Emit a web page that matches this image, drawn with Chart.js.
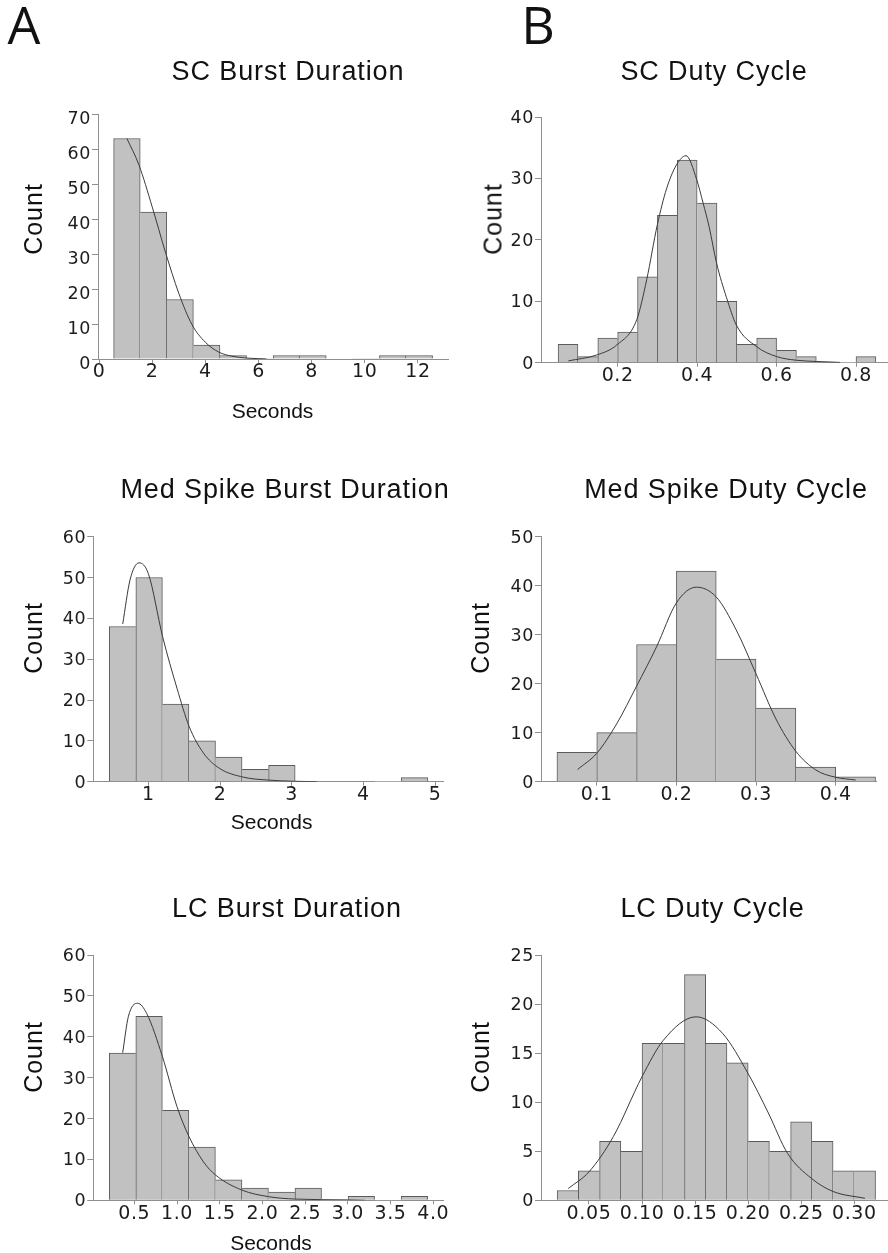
<!DOCTYPE html>
<html lang="en">
<head>
<meta charset="UTF-8">
<title>Burst duration and duty cycle</title>
<script src="https://cdn.jsdelivr.net/npm/chart.js"></script>
<style>
  body { margin: 0; background: #fff; }
  #page { position: relative; width: 888px; height: 1253px; overflow: hidden;
          font-family: "Liberation Sans", Arial, sans-serif; color: #111; }
  #page canvas { position: absolute; }
  .txt { position: absolute; line-height: 1; white-space: nowrap; transform: translate(-50%, -50%); }
  .letter { font-family: "Open Sans", sans-serif; font-size: 52px; }
  .title { font-size: 27px; letter-spacing: 0.9px; }
  .ylab { font-size: 25px; letter-spacing: 1px; transform: translate(-50%, -50%) rotate(-90deg); }
  .xlab { font-size: 21px; }
</style>
</head>
<body>
<div id="page"></div>
<script>
// ---- data ----
// SC burst duration (s)
const scBurstCounts = [63, 42, 17, 4, 1, 0, 1, 1, 0, 0, 1, 1];
const scBurstBinStart = 0.55, scBurstBinWidth = 1.0;
const scBurstFit = [[1.05, 63], [1.5, 55.5], [2.0, 43.5], [2.5, 30.5], [3.0, 18.8], [3.5, 9.8],
                    [4.0, 4.8], [4.5, 2.0], [5.0, 0.8], [5.5, 0.3], [6.0, 0.1], [6.3, 0]];
const scBurstXTicks = ['0', '2', '4', '6', '8', '10', '12'];
const scBurstYTicks = [0, 10, 20, 30, 40, 50, 60, 70];

// SC duty cycle
const scDutyCounts = [3, 1, 4, 5, 14, 24, 33, 26, 10, 3, 4, 2, 1, 0, 0, 1];
const scDutyBinStart = 0.05, scDutyBinWidth = 0.05;
const scDutyFit = [[0.076, 0.3], [0.147, 1.25], [0.198, 2.9], [0.248, 7.0], [0.273, 13.5], [0.3, 22.5],
                   [0.323, 28.3], [0.348, 32.2], [0.372, 33.7], [0.399, 29.8], [0.415, 26], [0.43, 22.2],
                   [0.449, 16.2], [0.474, 10.6], [0.499, 6.1], [0.55, 2.6], [0.6, 1.0], [0.65, 0.4],
                   [0.7, 0.2], [0.76, 0.05]];
const scDutyXTicks = ['0.2', '0.4', '0.6', '0.8'];
const scDutyYTicks = [0, 10, 20, 30, 40];

// Med spike burst duration (s)
const medBurstCounts = [38, 50, 19, 10, 6, 3, 4, 0, 0, 0, 0, 1];
const medBurstBinStart = 0.456, medBurstBinWidth = 0.3703;
const medBurstFit = [[0.643, 38.6], [0.745, 49.4], [0.87, 53.6], [1.0, 51.0], [1.2, 35.5], [1.4, 22.9],
                     [1.57, 13.5], [1.77, 7.0], [1.99, 3.3], [2.33, 1.1], [2.67, 0.4], [3.05, 0.1], [3.35, 0]];
const medBurstXTicks = ['1', '2', '3', '4', '5'];
const medBurstYTicks = [0, 10, 20, 30, 40, 50, 60];

// Med spike duty cycle
const medDutyCounts = [6, 10, 28, 43, 25, 15, 3, 1];
const medDutyBinStart = 0.05, medDutyBinWidth = 0.05;
const medDutyFit = [[0.076, 2.5], [0.1, 5.8], [0.125, 11.8], [0.15, 19.5], [0.175, 27.5], [0.2, 36.5],
                    [0.225, 39.7], [0.25, 37.7], [0.275, 31.0], [0.3, 22.0], [0.325, 12.8], [0.35, 6.2],
                    [0.375, 2.4], [0.4, 0.9], [0.425, 0.35]];
const medDutyXTicks = ['0.1', '0.2', '0.3', '0.4'];
const medDutyYTicks = [0, 10, 20, 30, 40, 50];

// LC burst duration (s)
const lcBurstCounts = [36, 45, 22, 13, 5, 3, 2, 3, 0, 1, 0, 1];
const lcBurstBinStart = 0.207, lcBurstBinWidth = 0.3106;
const lcBurstFit = [[0.364, 36.1], [0.43, 44.9], [0.54, 48.2], [0.645, 45.7], [0.83, 35.1], [1.0, 22.9],
                    [1.14, 15.6], [1.31, 9.4], [1.45, 6.2], [1.76, 2.5], [2.07, 0.9], [2.38, 0.3],
                    [3.0, 0.1], [3.2, 0]];
const lcBurstXTicks = ['0.5', '1.0', '1.5', '2.0', '2.5', '3.0', '3.5', '4.0'];
const lcBurstYTicks = [0, 10, 20, 30, 40, 50, 60];

// LC duty cycle
const lcDutyCounts = [1, 3, 6, 5, 16, 16, 23, 16, 14, 6, 5, 8, 6, 3, 3];
const lcDutyBinStart = 0.02, lcDutyBinWidth = 0.02;
const lcDutyFit = [[0.0305, 1.2], [0.05, 2.9], [0.073, 6.5], [0.1, 12.6], [0.12, 16.3], [0.151, 18.7],
                   [0.176, 17.0], [0.2, 12.9], [0.219, 8.9], [0.237, 4.8], [0.26, 2.2], [0.28, 0.9],
                   [0.31, 0.2]];
const lcDutyXTicks = ['0.05', '0.10', '0.15', '0.20', '0.25', '0.30'];
const lcDutyYTicks = [0, 5, 10, 15, 20, 25];

// ---- layout: canvas box [left, top, w, h] and plot area [left, top, right, bottom] in page px ----
const panels = [
  { counts: scBurstCounts, start: scBurstBinStart, width: scBurstBinWidth, fit: scBurstFit,
    xTicks: scBurstXTicks, yTicks: scBurstYTicks, xMin: -0.038, xMax: 13.13,
    box: [0, 0, 470, 420], area: [98, 114, 448, 359], yLabelShift: 5 },
  { counts: scDutyCounts, start: scDutyBinStart, width: scDutyBinWidth, fit: scDutyFit,
    xTicks: scDutyXTicks, yTicks: scDutyYTicks, xMin: 0.007, xMax: 0.878,
    box: [450, 0, 438, 420], area: [541, 117, 887, 362.7], yLabelShift: 1.5 },
  { counts: medBurstCounts, start: medBurstBinStart, width: medBurstBinWidth, fit: medBurstFit,
    xTicks: medBurstXTicks, yTicks: medBurstYTicks, xMin: 0.233, xMax: 5.11,
    box: [0, 420, 470, 420], area: [93.3, 536.7, 443, 781.7], yLabelShift: 1.5 },
  { counts: medDutyCounts, start: medDutyBinStart, width: medDutyBinWidth, fit: medDutyFit,
    xTicks: medDutyXTicks, yTicks: medDutyYTicks, xMin: 0.030, xMax: 0.4506,
    box: [450, 420, 438, 420], area: [541, 536.7, 876, 781.7], yLabelShift: 1.5 },
  { counts: lcBurstCounts, start: lcBurstBinStart, width: lcBurstBinWidth, fit: lcBurstFit,
    xTicks: lcBurstXTicks, yTicks: lcBurstYTicks, xMin: 0.02, xMax: 4.114,
    box: [0, 840, 470, 413], area: [93.3, 955, 443, 1200.3], yLabelShift: 1.5 },
  { counts: lcDutyCounts, start: lcDutyBinStart, width: lcDutyBinWidth, fit: lcDutyFit,
    xTicks: lcDutyXTicks, yTicks: lcDutyYTicks, xMin: 0.0048, xMax: 0.3308,
    box: [450, 840, 438, 413], area: [541, 955, 887, 1200.3], yLabelShift: 1.5 }
];

// text placed by centre point
const labels = [
  ['A', 'letter', 24, 24], ['B', 'letter', 538, 24],
  ['SC Burst Duration', 'title', 288, 71], ['SC Duty Cycle', 'title', 714, 71],
  ['Med Spike Burst Duration', 'title', 285, 488.5], ['Med Spike Duty Cycle', 'title', 726, 488.5],
  ['LC Burst Duration', 'title', 287, 908.3], ['LC Duty Cycle', 'title', 712.5, 908.3],
  ['Count', 'ylab', 33.3, 219], ['Count', 'ylab', 493, 219],
  ['Count', 'ylab', 32.5, 638], ['Count', 'ylab', 480, 638],
  ['Count', 'ylab', 32.5, 1056.7], ['Count', 'ylab', 480, 1056.7],
  ['Seconds', 'xlab', 272.5, 410], ['Seconds', 'xlab', 271.7, 820.8], ['Seconds', 'xlab', 271, 1241.5]
];

const page = document.getElementById('page');
const axisGray = '#8f8f8f';
const inkColor = '#1c1c1c';
const tickFamily = '"DejaVu Sans", sans-serif';

// a touch of tracking on the tick numbers
const tickTracking = {
  id: 'tickTracking',
  beforeDraw(chart) { chart.ctx.letterSpacing = '0.6px'; }
};

function drawPanel(p) {
  const [bx, by, bw, bh] = p.box;
  const [left, top, right, bottom] = p.area;
  const canvas = document.createElement('canvas');
  canvas.width = bw;
  canvas.height = bh;
  canvas.style.left = bx + 'px';
  canvas.style.top = by + 'px';
  page.appendChild(canvas);

  const bars = p.counts.map((c, i) => ({ x: p.start + (i + 0.5) * p.width, y: c }));
  const curve = p.fit.map(([x, y]) => ({ x, y }));

  // share each edge between neighbouring bars only once
  const barBorder = ctx => {
    const i = ctx.dataIndex, c = p.counts[i];
    const prev = i > 0 ? p.counts[i - 1] : -1;
    const next = i < p.counts.length - 1 ? p.counts[i + 1] : -1;
    return { top: 1, bottom: 0, left: prev < c ? 1 : 0, right: next <= c ? 1 : 0 };
  };

  new Chart(canvas, {
    type: 'bar',
    data: {
      datasets: [
        { type: 'line', data: curve, borderColor: '#3a3a3a', borderWidth: 1, pointRadius: 0,
          cubicInterpolationMode: 'monotone', fill: false, order: 0 },
        { type: 'bar', data: bars, backgroundColor: '#c1c1c1', borderColor: '#5b5b5b',
          borderWidth: barBorder, borderSkipped: false, barPercentage: 1, categoryPercentage: 1, order: 1 }
      ]
    },
    options: {
      responsive: false,
      animation: false,
      devicePixelRatio: 1,
      layout: { padding: { left: 0, top: top - by, right: bx + bw - right, bottom: 0 } },
      plugins: { legend: { display: false }, tooltip: { enabled: false }, title: { display: false } },
      scales: {
        x: {
          type: 'linear', min: p.xMin, max: p.xMax, offset: false,
          afterFit: s => { s.height = by + bh - bottom; },
          afterBuildTicks: s => { s.ticks = p.xTicks.map(t => ({ value: parseFloat(t) })); },
          ticks: {
            callback: (v, i) => p.xTicks[i], autoSkip: false, maxRotation: 0, padding: 0,
            color: inkColor, font: { family: tickFamily, size: 19, lineHeight: 1 }
          },
          grid: { drawOnChartArea: false, tickLength: 4, color: axisGray, offset: false },
          border: { color: axisGray, width: 1 }
        },
        y: {
          min: 0, max: p.yTicks[p.yTicks.length - 1],
          afterFit: s => { s.width = left - bx; },
          afterBuildTicks: s => { s.ticks = p.yTicks.map(v => ({ value: v })); },
          ticks: {
            padding: 1, labelOffset: p.yLabelShift, color: inkColor,
            font: { family: tickFamily, size: 17.5, lineHeight: 1 }
          },
          grid: { drawOnChartArea: false, tickLength: 6, color: axisGray },
          border: { color: axisGray, width: 1 }
        }
      }
    },
    plugins: [tickTracking]
  });
}

panels.forEach(drawPanel);

labels.forEach(([text, cls, x, y]) => {
  const d = document.createElement('div');
  d.className = 'txt ' + cls;
  d.textContent = text;
  d.style.left = x + 'px';
  d.style.top = y + 'px';
  page.appendChild(d);
});
</script>
</body>
</html>
